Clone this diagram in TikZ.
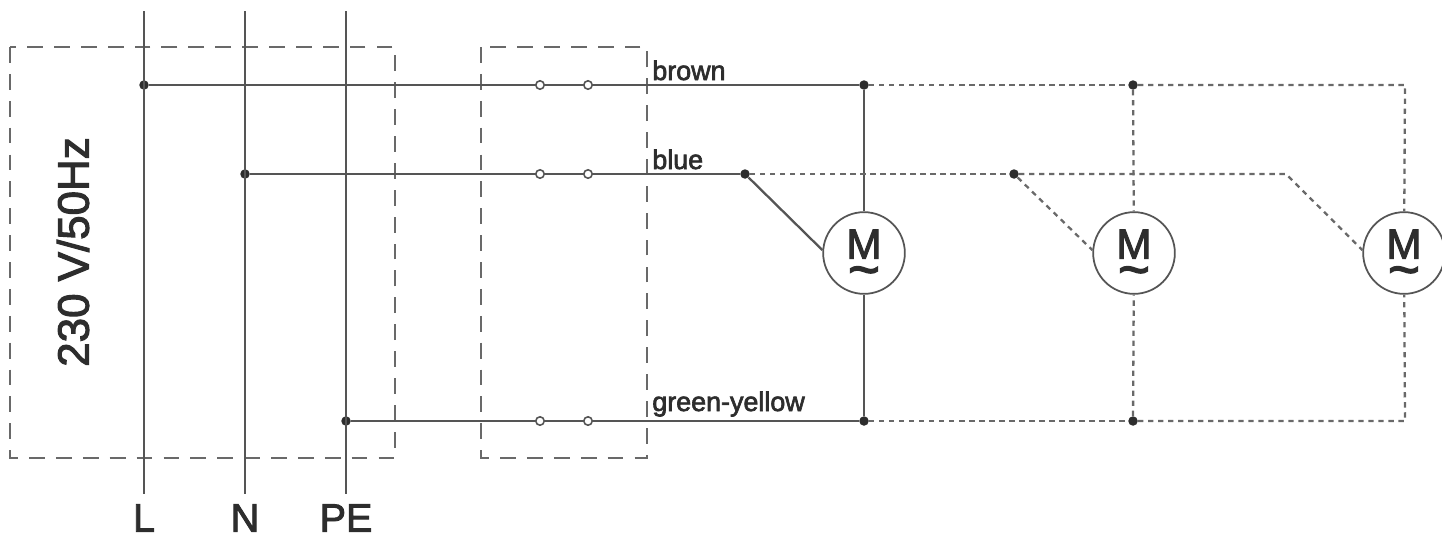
\documentclass[tikz,border=0pt]{standalone}
\usepackage{fontspec}
\setmainfont{Liberation Sans}[FakeBold=2.4]
\usetikzlibrary{positioning}
\definecolor{mywire}{RGB}{85,85,85}
\definecolor{mydash}{RGB}{105,105,105}
\definecolor{mytext}{RGB}{45,45,45}
\newcommand{\motorsym}{\fontsize{24}{14}\selectfont\rule{0pt}{23pt}M\\[3.5pt]\fontsize{31}{14}\selectfont\textasciitilde}
\tikzset{
    wire/.style={mywire,line width=1.3pt},
    hiddenwire/.style={mydash,line width=1.3pt,dash pattern=on 3pt off 2.7pt},
    framebox/.style={mydash,line width=1pt,dash pattern=on 9pt off 6.3pt},
    junction/.style={circle,fill=mytext,inner sep=0pt,minimum size=5.4pt},
    terminal/.style={circle,draw=mywire,fill=white,line width=0.9pt,inner sep=0pt,minimum size=4.8pt},
    motor/.style={circle,draw=mywire,fill=white,text=mytext,line width=1pt,inner sep=0pt,minimum size=46.5pt,align=center},
    wirelabel/.style={mytext,anchor=base west,inner sep=0pt,font=\fontsize{15.3}{17}\selectfont},
    phaselabel/.style={mytext,font=\fontsize{22.5}{26}\selectfont},
}
\begin{document}
\begin{tikzpicture}[x=0.02cm,y=-0.02cm]
    \useasboundingbox (0,0) rectangle (1442,535);

    % Dashed enclosures
    \draw[framebox] (10,47) rectangle (395,458);
    \draw[framebox] (481,47) rectangle (647,458);

    % Free ends of the supply lines
    \coordinate (topL) at (144,11);
    \coordinate (topN) at (245,11);
    \coordinate (topPE) at (346,11);
    \coordinate (botL) at (144,494);
    \coordinate (botN) at (245,494);
    \coordinate (botPE) at (346,494);
    \coordinate (cornerBrown) at (1405,85);
    \coordinate (cornerBlue) at (1286,174);
    \coordinate (cornerGreen) at (1405,421);

    % Junctions
    \node[junction] (jL) at (144,85) {};
    \node[junction] (jN) at (245,174) {};
    \node[junction] (jPE) at (346,421) {};
    \node[junction] (brownA) at (864,85) {};
    \node[junction] (brownB) at (1133,85) {};
    \node[junction] (blueA) at (745,174) {};
    \node[junction] (blueB) at (1014,174) {};
    \node[junction] (greenA) at (864,421) {};
    \node[junction] (greenB) at (1133,421) {};

    % Solid wires
    \draw[wire] (topL) -- (botL);
    \draw[wire] (topN) -- (botN);
    \draw[wire] (topPE) -- (botPE);
    \draw[wire] (jL) -- (brownA);
    \draw[wire] (jN) -- (blueA);
    \draw[wire] (jPE) -- (greenA);

    % Motors
    \node[motor] (motorA) at (864,253) {\motorsym};
    \node[motor] (motorB) at (1134,253) {\motorsym};
    \node[motor] (motorC) at (1404,253) {\motorsym};

    \draw[wire] (brownA) -- (motorA);
    \draw[wire] (greenA) -- (motorA);
    \draw[wire] (blueA) -- (motorA.176);

    % Dashed wires to the other motors
    \draw[hiddenwire] (brownA) -- (brownB);
    \draw[hiddenwire] (brownB) -- (cornerBrown) -- (motorC);
    \draw[hiddenwire] (blueA) -- (blueB);
    \draw[hiddenwire] (blueB) -- (cornerBlue) -- (motorC.176);
    \draw[hiddenwire] (blueB) -- (motorB.176);
    \draw[hiddenwire] (greenA) -- (greenB);
    \draw[hiddenwire] (greenB) -- (cornerGreen) -- (motorC);
    \draw[hiddenwire] (brownB) -- (motorB);
    \draw[hiddenwire] (greenB) -- (motorB);

    % Terminals
    \foreach \tx in {540,588} {
        \node[terminal] (termBrown\tx) at (\tx,85) {};
        \node[terminal] (termBlue\tx) at (\tx,174) {};
        \node[terminal] (termGreen\tx) at (\tx,421) {};
    }

    % Labels
    \node[wirelabel] (labelBrown) at (652,80) {brown};
    \node[wirelabel] (labelBlue) at (652,169) {blue};
    \node[wirelabel] (labelGreen) at (652,411) {green-yellow};
    \node[phaselabel] (labelL) at (144,518) {L};
    \node[phaselabel] (labelN) at (245,518) {N};
    \node[phaselabel] (labelPE) at (346,518) {PE};
    \node[phaselabel,font=\fontsize{25}{28}\selectfont,rotate=90] (labelSupply) at (73,252) {230 V/50Hz};
\end{tikzpicture}
\end{document}
